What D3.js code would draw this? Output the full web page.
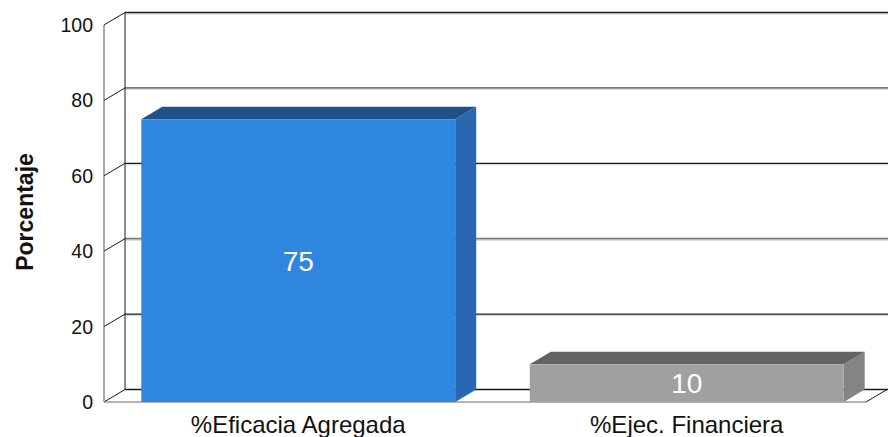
<!DOCTYPE html>
<html><head><meta charset="utf-8">
<script src="https://cdn.jsdelivr.net/npm/d3@7/dist/d3.min.js"></script>
<style>body{margin:0;background:#fff}svg{display:block}</style>
</head><body>
<svg id="c" width="888" height="437"></svg>
<script>
const categories = ["%Eficacia Agregada", "%Ejec. Financiera"];
const values = [75, 10];
const yTicks = [0, 20, 40, 60, 80, 100];
const yLabel = "Porcentaje";
const faceColors = ["#2f86e0", "#a0a0a0"];
const topColors = ["#1f5088", "#636363"];
const sideColors = ["#2868b2", "#848484"];

const svg = d3.select("#c");
const font = "Liberation Sans, Arial, sans-serif";
const dx = 21, dy = -12.5;
const x0 = 104, xEnd = 866;
const y = d3.scaleLinear().domain([0, 100]).range([402, 25]);
const x = d3.scaleBand().domain(categories).range([104, 881]).paddingInner(0.192).paddingOuter(0.096);

const g = svg.append("g");
yTicks.forEach((t) => {
  const yy = y(t) + dy;
  if (t > 0) {
    const col = (t === 100 || t === 60 || t === 20) ? "#1a1a1a" : "#7a7a7a";
    g.append("line").attr("x1", x0 + dx).attr("x2", 888).attr("y1", yy + 1.5).attr("y2", yy + 1.5)
      .attr("stroke", "#d0d0d0").attr("stroke-width", 1);
    g.append("line").attr("x1", x0 + dx).attr("x2", 888).attr("y1", yy).attr("y2", yy)
      .attr("stroke", col).attr("stroke-width", col === "#1a1a1a" ? 1.3 : 1.8);
  }
  g.append("line").attr("x1", x0).attr("y1", y(t)).attr("x2", x0 + dx).attr("y2", yy)
    .attr("stroke", "#1a1a1a").attr("stroke-width", 1);
});
g.append("line").attr("x1", x0 + dx).attr("x2", 888).attr("y1", y(0) + dy).attr("y2", y(0) + dy)
  .attr("stroke", "#1a1a1a").attr("stroke-width", 1.3);
g.append("line").attr("x1", x0 + dx).attr("x2", x0 + dx).attr("y1", y(100) + dy).attr("y2", y(0) + dy)
  .attr("stroke", "#1a1a1a").attr("stroke-width", 1);
g.append("line").attr("x1", xEnd).attr("y1", y(0)).attr("x2", xEnd + dx).attr("y2", y(0) + dy)
  .attr("stroke", "#1a1a1a").attr("stroke-width", 1);
g.append("line").attr("x1", x0).attr("x2", xEnd).attr("y1", y(0)).attr("y2", y(0))
  .attr("stroke", "#9a9a9a").attr("stroke-width", 1.3);
g.append("line").attr("x1", x0).attr("x2", x0).attr("y1", y(100)).attr("y2", y(0))
  .attr("stroke", "#555").attr("stroke-width", 1);

const bars = svg.append("g");
categories.forEach((c, i) => {
  const bx = x(c), bw = x.bandwidth(), top = y(values[i]), bot = y(0);
  bars.append("path").attr("d", `M${bx + bw},${top} L${bx + bw + dx},${top + dy} L${bx + bw + dx},${bot + dy} L${bx + bw},${bot} Z`)
    .attr("fill", sideColors[i]);
  bars.append("path").attr("d", `M${bx},${top} L${bx + dx},${top + dy} L${bx + bw + dx},${top + dy} L${bx + bw},${top} Z`)
    .attr("fill", topColors[i]);
  bars.append("rect").attr("x", bx).attr("y", top).attr("width", bw).attr("height", bot - top)
    .attr("fill", faceColors[i]);
  bars.append("text").attr("x", bx + bw / 2).attr("y", (top + bot) / 2 + 10)
    .attr("text-anchor", "middle").attr("fill", "#fff").attr("font-family", font).attr("font-size", 28)
    .text(values[i]);
  svg.append("text").attr("x", bx + bw / 2).attr("y", 433).attr("text-anchor", "middle")
    .attr("font-family", font).attr("font-size", 24).attr("fill", "#111").text(c);
});

yTicks.forEach(t => {
  svg.append("text").attr("x", 93).attr("y", y(t) + 7).attr("text-anchor", "end")
    .attr("font-family", font).attr("font-size", 19.5).attr("fill", "#111").text(t);
});

svg.append("text").attr("transform", "translate(33,212) rotate(-90)").attr("text-anchor", "middle")
  .attr("font-family", font).attr("font-size", 23).attr("font-weight", "bold").attr("fill", "#111").text(yLabel);
</script>
</body></html>
